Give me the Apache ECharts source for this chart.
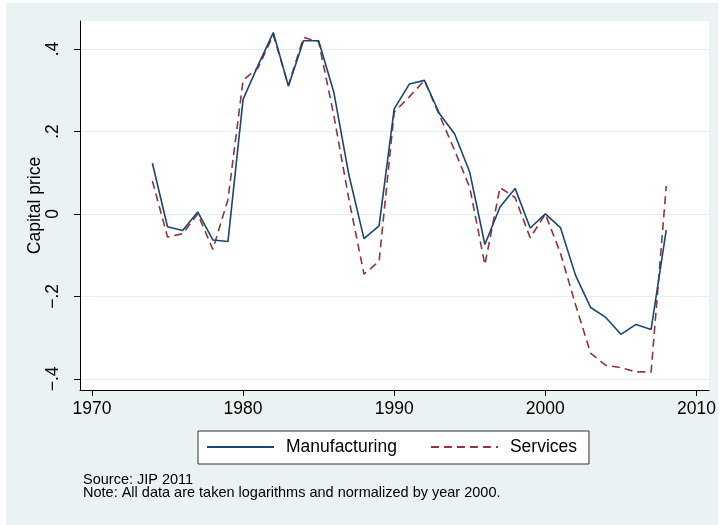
<!DOCTYPE html>
<html>
<head>
<meta charset="utf-8">
<script src="https://cdn.jsdelivr.net/npm/echarts@6/dist/echarts.min.js"></script>
<style>
  html, body { margin: 0; padding: 0; background: #ffffff; }
  #wrap { position: relative; width: 724px; height: 525px; background: #ffffff; }
  #panel { position: absolute; left: 6px; top: 3px; width: 712px; height: 522px; background: #eaf2f3; }
  #chart { position: absolute; left: 0; top: 0; width: 724px; height: 525px; }
</style>
</head>
<body>
<div id="wrap"><div id="panel"></div><div id="chart"></div></div>
<script>
// Years covered by both series
const years = [1974, 1975, 1976, 1977, 1978, 1979, 1980, 1981, 1982, 1983,
               1984, 1985, 1986, 1987, 1988, 1989, 1990, 1991, 1992, 1993,
               1994, 1995, 1996, 1997, 1998, 1999, 2000, 2001, 2002, 2003,
               2004, 2005, 2006, 2007, 2008];

// Log capital price, normalized to 2000
const manufacturing = [0.123, -0.031, -0.040, 0.005, -0.063, -0.067, 0.278, 0.361, 0.440, 0.310,
                       0.420, 0.420, 0.296, 0.095, -0.060, -0.029, 0.255, 0.315, 0.324, 0.243,
                       0.194, 0.101, -0.074, 0.017, 0.062, -0.034, 0.000, -0.033, -0.149, -0.227,
                       -0.251, -0.292, -0.268, -0.280, -0.039];

const services = [0.080, -0.056, -0.048, 0.000, -0.086, 0.035, 0.324, 0.355, 0.434, 0.312,
                  0.428, 0.418, 0.240, 0.036, -0.146, -0.115, 0.247, 0.284, 0.324, 0.239,
                  0.154, 0.064, -0.123, 0.064, 0.040, -0.058, 0.000, -0.095, -0.220, -0.338,
                  -0.367, -0.373, -0.383, -0.383, 0.068];

const seriesNames = ['Manufacturing', 'Services'];

// Axis ticks and their labels
const xTickValues = [1970, 1980, 1990, 2000, 2010];
const yTickValues = [-0.4, -0.2, 0, 0.2, 0.4];
const yTickLabels = ['\u2212.4', '\u2212.2', '0', '.2', '.4'];

const yAxisTitle = 'Capital price';
const notes = ['Source: JIP 2011',
               'Note: All data are taken logarithms and normalized by year 2000.'];

const FONT = "'Liberation Sans', Arial, Helvetica, sans-serif";
const AXIS_COLOR = '#000000';

const chart = echarts.init(document.getElementById('chart'), null, { renderer: 'canvas' });

const toPoints = vals => years.map((y, i) => [y, vals[i]]);

chart.setOption({
  animation: false,
  backgroundColor: 'transparent',
  textStyle: { fontFamily: FONT },
  grid: {
    left: 80, top: 21, right: 15, bottom: 135,
    show: true, backgroundColor: '#ffffff', borderWidth: 0
  },
  xAxis: {
    type: 'value',
    min: 1969.21,
    max: 2010.83,
    axisLine: { show: true, onZero: false, lineStyle: { color: AXIS_COLOR, width: 1 } },
    axisTick: { show: true, length: 6, customValues: xTickValues, lineStyle: { color: AXIS_COLOR, width: 1 } },
    axisLabel: {
      customValues: xTickValues,
      margin: 10,
      fontSize: 17.5,
      fontFamily: FONT,
      color: '#000000',
      formatter: v => String(v)
    },
    splitLine: { show: false }
  },
  yAxis: {
    type: 'value',
    min: -0.427,
    max: 0.468,
    name: yAxisTitle,
    nameLocation: 'middle',
    nameGap: 36,
    nameMoveOverlap: false,
    nameTextStyle: { fontSize: 17.5, fontFamily: FONT, color: '#000000' },
    axisLine: { show: true, onZero: false, lineStyle: { color: AXIS_COLOR, width: 1 } },
    axisTick: { show: true, length: 6, customValues: yTickValues, lineStyle: { color: AXIS_COLOR, width: 1 } },
    axisLabel: {
      customValues: yTickValues,
      rotate: 90,
      margin: 18,
      fontSize: 17.5,
      fontFamily: FONT,
      color: '#000000',
      formatter: v => {
        const k = yTickValues.findIndex(t => Math.abs(t - v) < 1e-9);
        return k >= 0 ? yTickLabels[k] : '';
      }
    },
    splitLine: { show: true, lineStyle: { color: '#e6eef0', width: 1.2 } }
  },
  legend: {
    data: seriesNames,
    left: 198,
    top: 431,
    orient: 'horizontal',
    padding: [7, 12, 8, 8],
    itemGap: 33,
    itemWidth: 67,
    itemHeight: 14,
    backgroundColor: '#ffffff',
    borderColor: '#333333',
    borderWidth: 1,
    borderRadius: 0,
    selectedMode: false,
    itemStyle: { opacity: 0 },
    textStyle: { fontSize: 17.5, fontFamily: FONT, color: '#000000', padding: [0, 0, 0, 7] }
  },
  graphic: [{
    type: 'text',
    left: 83,
    top: 472,
    silent: true,
    style: {
      text: notes.join('\n'),
      font: '14.5px ' + FONT,
      lineHeight: 13.3,
      fill: '#000000'
    }
  }],
  series: [
    {
      name: seriesNames[0],
      type: 'line',
      data: toPoints(manufacturing),
      symbol: 'none',
      showSymbol: false,
      lineStyle: { color: '#1a476f', width: 1.6 },
      itemStyle: { color: '#1a476f' },
      z: 3
    },
    {
      name: seriesNames[1],
      type: 'line',
      data: toPoints(services),
      symbol: 'none',
      showSymbol: false,
      lineStyle: { color: '#90353b', width: 1.6, type: [8, 5] },
      itemStyle: { color: '#90353b' },
      z: 2
    }
  ]
});
</script>
</body>
</html>
